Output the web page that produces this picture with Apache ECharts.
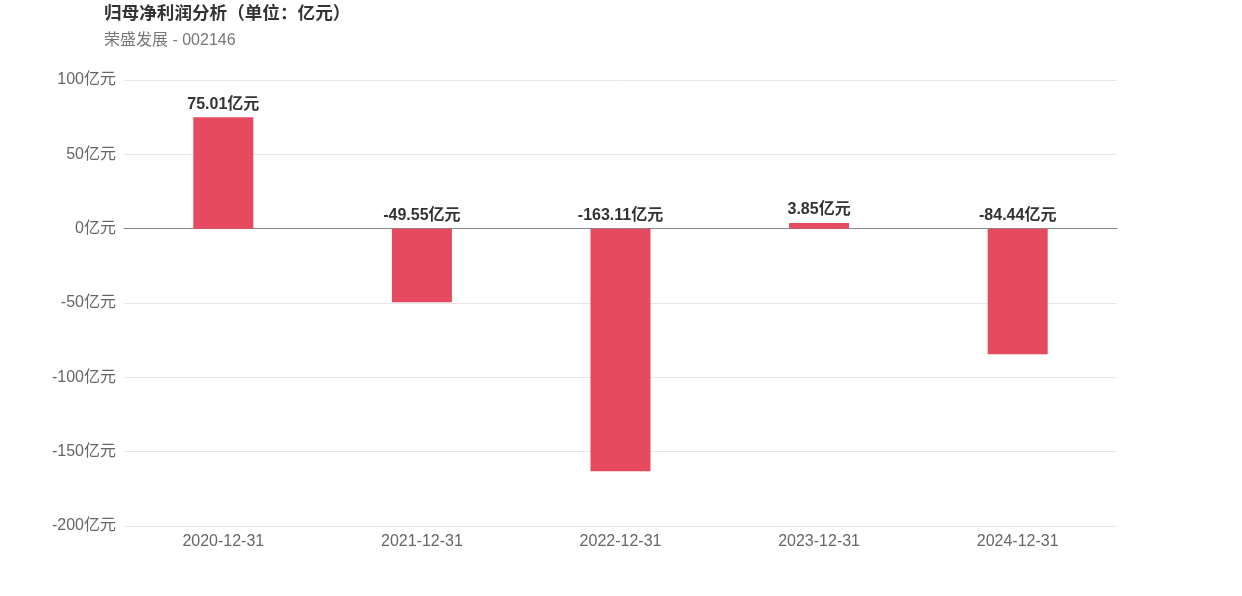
<!DOCTYPE html>
<html><head><meta charset="utf-8">
<script src="https://cdn.jsdelivr.net/npm/echarts@6/dist/echarts.min.js"></script>
<style>html,body{margin:0;padding:0;background:#fff}#c{width:1242px;height:596px}</style>
</head><body><div id="c"></div>
<script>
const categories = ['2020-12-31','2021-12-31','2022-12-31','2023-12-31','2024-12-31'];
const profits = [75.01, -49.55, -163.11, 3.85, -84.44];
const titleText = '归母净利润分析（单位：亿元）';
const subText = '荣盛发展 - 002146';
const unit = '亿元';

const chart = echarts.init(document.getElementById('c'));
chart.setOption({
  animation: false,
  textStyle: { fontFamily: '"Liberation Sans", Arial, "Noto Sans CJK SC", sans-serif' },
  title: {
    text: titleText, subtext: subText, left: 99, top: 0,
    textStyle: { fontSize: 17.6, fontWeight: 'bold', color: '#333' },
    subtextStyle: { fontSize: 16, color: '#777' }, itemGap: 10
  },
  grid: { left: 124, right: 125, top: 80, bottom: 70 },
  xAxis: {
    type: 'category', data: categories,
    axisLine: { onZero: true, lineStyle: { color: '#888' } },
    axisTick: { show: false },
    axisLabel: { color: '#666', fontSize: 16, margin: 8 }
  },
  yAxis: {
    type: 'value', min: -200, max: 100, interval: 50,
    axisLine: { show: false }, axisTick: { show: false },
    axisLabel: { color: '#666', fontSize: 16, margin: 8, formatter: v => v + unit },
    splitLine: { lineStyle: { color: '#e6e6e6' } }
  },
  series: [{
    type: 'bar', data: profits, barWidth: 60,
    itemStyle: { color: '#e64a5f' },
    label: { show: true, position: 'top', color: '#333', fontSize: 16, fontWeight: 'bold',
      formatter: p => p.value + unit }
  }]
});
</script></body></html>
